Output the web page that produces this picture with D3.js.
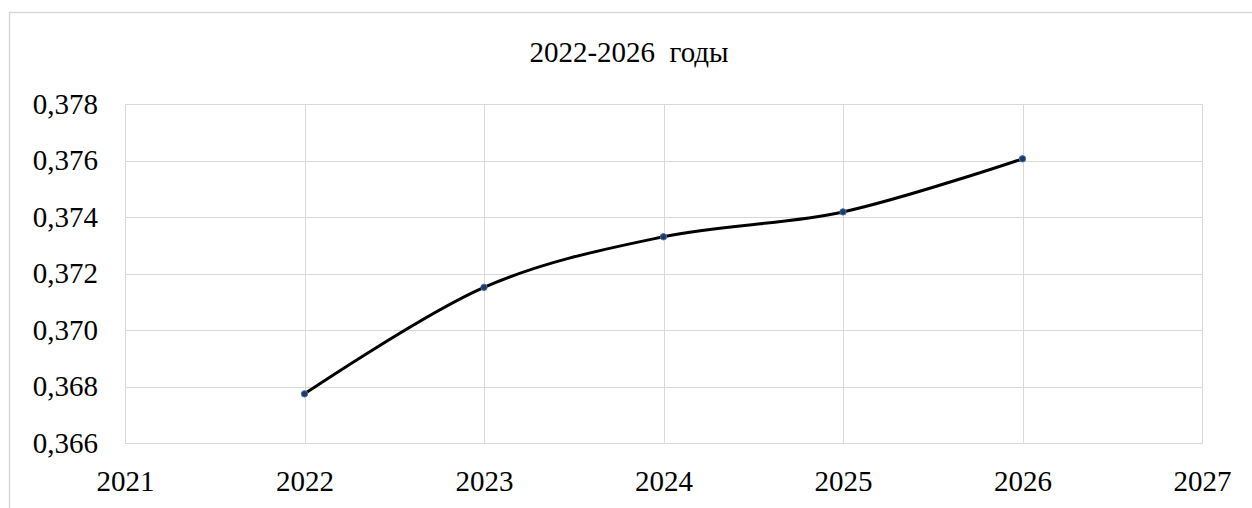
<!DOCTYPE html>
<html>
<head>
<meta charset="utf-8">
<script src="https://cdn.jsdelivr.net/npm/d3@7"></script>
<style>
  body { margin: 0; background: #fff; }
</style>
</head>
<body>
<div class="graph-container"></div>
<script>
// chart data
var years = [2022, 2023, 2024, 2025, 2026];
var values = [0.36774, 0.37151, 0.37330, 0.37418, 0.37606];
var xTicks = [2021, 2022, 2023, 2024, 2025, 2026, 2027];
var yTicks = [0.366, 0.368, 0.370, 0.372, 0.374, 0.376, 0.378];
var chartTitle = '2022-2026  годы';

var svgWidth = 1252;
var svgHeight = 508;
var plotLeft = 125;
var plotRight = 1202;
var plotTop = 104;
var plotBottom = 443;
var serifFont = 'Liberation Serif';

var svg = d3.select('.graph-container').append('svg')
  .attr('width', svgWidth)
  .attr('height', svgHeight);

// outer chart border
svg.append('rect')
  .attr('x', 9.5)
  .attr('y', 12.5)
  .attr('width', svgWidth + 20)
  .attr('height', svgHeight + 20)
  .attr('fill', '#fff')
  .attr('stroke', '#d9d9d9')
  .attr('stroke-width', 1.5);

var xScale = d3.scaleLinear()
  .domain([2021, 2027])
  .range([plotLeft, plotRight]);

var yScale = d3.scaleLinear()
  .domain([0.366, 0.378])
  .range([plotBottom, plotTop]);

// horizontal gridlines
svg.append('g')
  .selectAll('line')
  .data(yTicks)
  .enter()
  .append('line')
  .attr('x1', plotLeft)
  .attr('x2', plotRight)
  .attr('y1', function(d) { return Math.round(yScale(d)) + 0.5; })
  .attr('y2', function(d) { return Math.round(yScale(d)) + 0.5; })
  .attr('stroke', '#d9d9d9')
  .attr('stroke-width', 1);

// vertical gridlines
svg.append('g')
  .selectAll('line')
  .data(xTicks)
  .enter()
  .append('line')
  .attr('x1', function(d) { return Math.round(xScale(d)) + 0.5; })
  .attr('x2', function(d) { return Math.round(xScale(d)) + 0.5; })
  .attr('y1', plotTop)
  .attr('y2', plotBottom)
  .attr('stroke', '#d9d9d9')
  .attr('stroke-width', 1);

// x axis labels
var xAxis = d3.axisBottom(xScale)
  .tickValues(xTicks)
  .tickFormat(d3.format('d'))
  .tickSize(0)
  .tickPadding(39);

var gx = svg.append('g')
  .attr('transform', 'translate(0,' + plotBottom + ')')
  .call(xAxis)
  .attr('font-family', serifFont)
  .attr('font-size', 29);
gx.select('.domain').attr('stroke', '#d9d9d9');
gx.selectAll('text')
  .attr('font-family', serifFont)
  .attr('fill', '#000')
  .attr('dy', '0.32em');

// y axis labels
var yAxis = d3.axisLeft(yScale)
  .tickValues(yTicks)
  .tickFormat(function(d) { return d3.format('.3f')(d).replace('.', ','); })
  .tickSize(0)
  .tickPadding(27);

var gy = svg.append('g')
  .attr('transform', 'translate(' + plotLeft + ',0)')
  .call(yAxis)
  .attr('font-family', serifFont)
  .attr('font-size', 29);
gy.select('.domain').remove();
gy.selectAll('text')
  .attr('font-family', serifFont)
  .attr('fill', '#000');

// smoothed line
var line = d3.line()
  .x(function(d, i) { return xScale(years[i]); })
  .y(function(d) { return yScale(d); })
  .curve(d3.curveCardinal.tension(0));

svg.append('path')
  .datum(values)
  .attr('d', line)
  .attr('fill', 'none')
  .attr('stroke', '#000')
  .attr('stroke-width', 3);

// markers
svg.selectAll('circle.point')
  .data(values)
  .enter()
  .append('circle')
  .attr('class', 'point')
  .attr('cx', function(d, i) { return xScale(years[i]); })
  .attr('cy', function(d) { return yScale(d); })
  .attr('r', 3.2)
  .attr('fill', '#1f3864')
  .attr('stroke', '#4a6fa5')
  .attr('stroke-width', 1);

// title
svg.append('text')
  .attr('x', 629)
  .attr('y', 62)
  .attr('text-anchor', 'middle')
  .attr('font-family', serifFont)
  .attr('font-size', 29)
  .style('white-space', 'pre')
  .attr('fill', '#000')
  .text(chartTitle);
</script>
</body>
</html>
